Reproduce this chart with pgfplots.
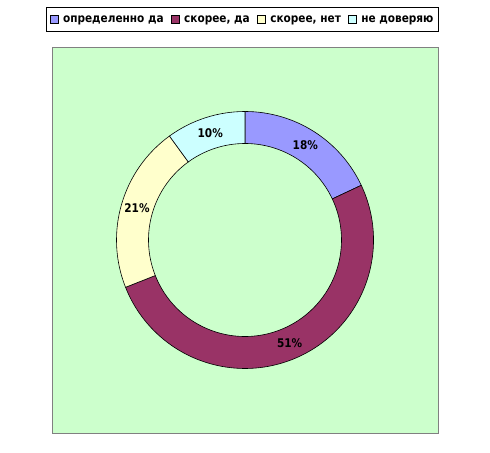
\documentclass[border=0pt]{standalone}
\usepackage{pgfplots}
\pgfplotsset{compat=1.18}
\usepackage{fontspec}
\setmainfont{DejaVu Sans}[FakeStretch=0.88]
\definecolor{cblue}{HTML}{9999FF}
\definecolor{cmaroon}{HTML}{993366}
\definecolor{cyellow}{HTML}{FFFFCC}
\definecolor{ccyan}{HTML}{CCFFFF}
\definecolor{cgreen}{HTML}{CCFFCC}
\newcommand\lab{\bfseries\fontsize{12}{14}\selectfont}
\newcommand\leg{\bfseries\fontsize{12}{14}\selectfont}
\begin{document}
\begin{tikzpicture}
\useasboundingbox (0,0) rectangle (490bp,453bp);
\begin{axis}[
  at={(52bp,20bp)}, anchor=south west,
  scale only axis, width=386bp, height=386bp,
  xmin=0, xmax=386, ymin=0, ymax=386,
  xtick=\empty, ytick=\empty,
  axis line style={draw=gray, line width=0.8bp},
  axis background/.style={fill=cgreen},
  legend columns=4,
  legend style={at={(0.4935,1.1036)}, anchor=north, draw=black, fill=white,
    line width=0.8bp, font=\leg,
    /tikz/every odd column/.append style={column sep=3bp},
    /tikz/every even column/.append style={column sep=5bp},
    inner xsep=3bp, inner ysep=6bp, cells={anchor=west}},
  legend image code/.code={\draw[#1, line width=0.5bp] (0bp,-4bp) rectangle (8bp,4bp);},
]
\addlegendimage{fill=cblue, draw=black}
\addlegendentry{определенно да}
\addlegendimage{fill=cmaroon, draw=black}
\addlegendentry{скорее, да}
\addlegendimage{fill=cyellow, draw=black}
\addlegendentry{скорее, нет}
\addlegendimage{fill=ccyan, draw=black}
\addlegendentry{не доверяю}
\def\cx{193}\def\cy{193}\def\Ro{128.5}\def\Ri{96.5}\def\Rm{112.5}
\gdef\acc{90}
\foreach \v/\c in {18/cblue,51/cmaroon,21/cyellow,10/ccyan} {
  \pgfmathsetmacro\a{\acc}
  \pgfmathsetmacro\b{\acc-3.6*\v}
  \pgfmathsetmacro\m{(\a+\b)/2}
  \xdef\acc{\b}
  \edef\temp{\noexpand\filldraw[fill=\c, draw=black, line width=0.6bp]
    (axis cs:{\cx+\Ro*cos(\a)},{\cy+\Ro*sin(\a)}) arc[start angle=\a, end angle=\b, radius=\Ro bp]
    -- (axis cs:{\cx+\Ri*cos(\b)},{\cy+\Ri*sin(\b)}) arc[start angle=\b, end angle=\a, radius=\Ri bp] -- cycle;
    \noexpand\node[font=\noexpand\lab] at (axis cs:{\cx+\Rm*cos(\m)},{\cy+\Rm*sin(\m)}) {\v\noexpand\%};}
  \temp
}
\end{axis}
\end{tikzpicture}
\end{document}
